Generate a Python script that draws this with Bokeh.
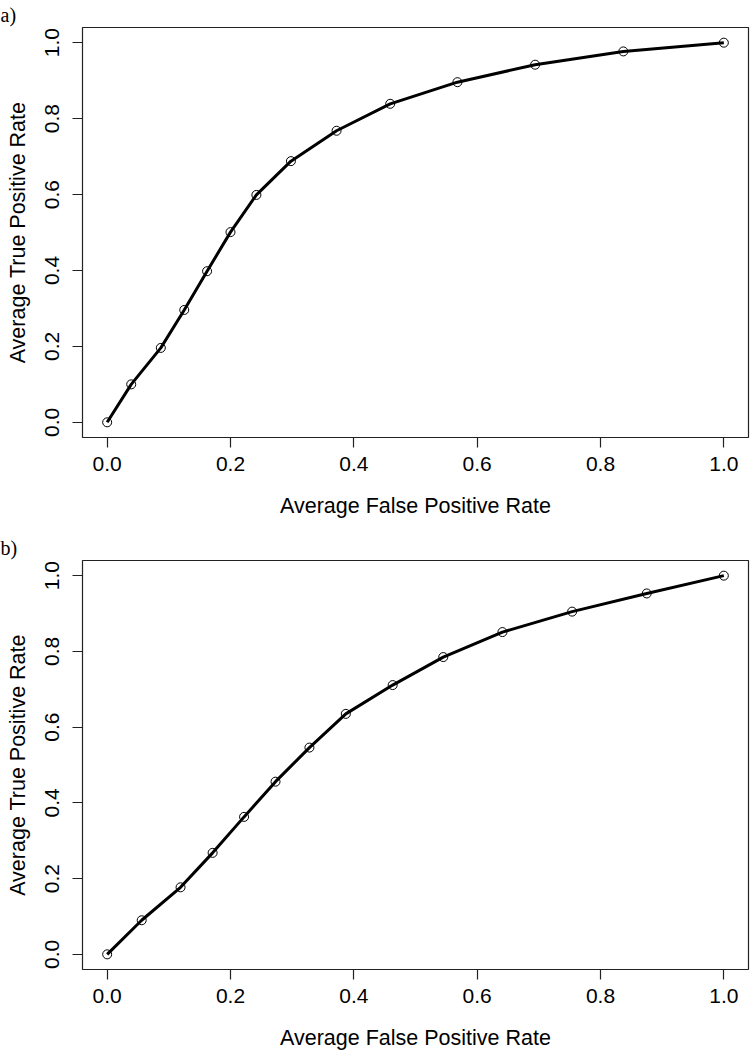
from bokeh.plotting import figure
from bokeh.layouts import column
from bokeh.models import FixedTicker, NumeralTickFormatter, Range1d
from bokeh.embed import file_html
from bokeh.resources import INLINE

# ---- data ----
fpr_a = [0.0, 0.039, 0.087, 0.125, 0.162, 0.200, 0.242, 0.298, 0.372, 0.459, 0.568, 0.694, 0.837, 1.0]
tpr_a = [0.0, 0.100, 0.196, 0.296, 0.398, 0.501, 0.599, 0.688, 0.768, 0.839, 0.896, 0.942, 0.977, 1.0]

fpr_b = [0.0, 0.056, 0.119, 0.171, 0.222, 0.273, 0.328, 0.387, 0.463, 0.545, 0.641, 0.754, 0.875, 1.0]
tpr_b = [0.0, 0.090, 0.177, 0.268, 0.363, 0.456, 0.546, 0.635, 0.711, 0.785, 0.851, 0.905, 0.953, 1.0]

ticks = [0.0, 0.2, 0.4, 0.6, 0.8, 1.0]
panel_labels = ["a)", "b)"]
x_title = "Average False Positive Rate"
y_title = "Average True Positive Rate"

FONT = "Liberation Sans"
FS = "21px"
AXCOL = "#222222"


def make_panel(xs, ys, label, height, bottom):
    p = figure(width=750, height=height, output_backend="svg", toolbar_location=None,
               x_range=Range1d(-0.04, 1.04), y_range=Range1d(-0.04, 1.04),
               min_border_left=82, min_border_right=2, min_border_top=26,
               min_border_bottom=bottom)
    p.title.text = label
    p.title.text_font = "Liberation Serif"
    p.title.text_font_size = "20px"
    p.title.text_font_style = "normal"
    p.title.align = "left"
    p.title.offset = -82
    p.title.standoff = 3
    p.title.text_color = "black"

    p.grid.visible = False
    p.outline_line_color = AXCOL
    p.outline_line_width = 1.2
    p.background_fill_color = "white"
    p.border_fill_color = "white"

    for ax in (p.xaxis[0], p.yaxis[0]):
        ax.ticker = FixedTicker(ticks=ticks)
        ax.formatter = NumeralTickFormatter(format="0.0")
        ax.axis_line_color = None
        ax.major_tick_line_color = AXCOL
        ax.major_tick_line_width = 1.2
        ax.major_tick_out = 10
        ax.major_tick_in = 0
        ax.minor_tick_line_color = None
        ax.major_label_text_font = FONT
        ax.major_label_text_font_size = FS
        ax.major_label_text_color = "black"
        ax.axis_label_text_font = FONT
        ax.axis_label_text_font_size = "21.5px"
        ax.axis_label_text_font_style = "normal"
        ax.axis_label_text_color = "black"

    p.xaxis.axis_label = x_title
    p.xaxis.major_label_standoff = 9
    p.xaxis.axis_label_standoff = 20
    p.yaxis.axis_label = y_title
    p.yaxis.major_label_standoff = 13
    p.yaxis.axis_label_standoff = 13
    p.yaxis.major_label_orientation = "vertical"

    p.line(xs, ys, line_color="black", line_width=3)
    p.scatter(xs, ys, marker="circle", size=9, fill_color=None,
              line_color="black", line_width=1)
    return p


pa = make_panel(fpr_a, tpr_a, panel_labels[0], 533, 96)
pb = make_panel(fpr_b, tpr_b, panel_labels[1], 519, 82)

layout = column(pa, pb, spacing=0)

with open("out.html", "w") as f:
    f.write(file_html(layout, INLINE))
